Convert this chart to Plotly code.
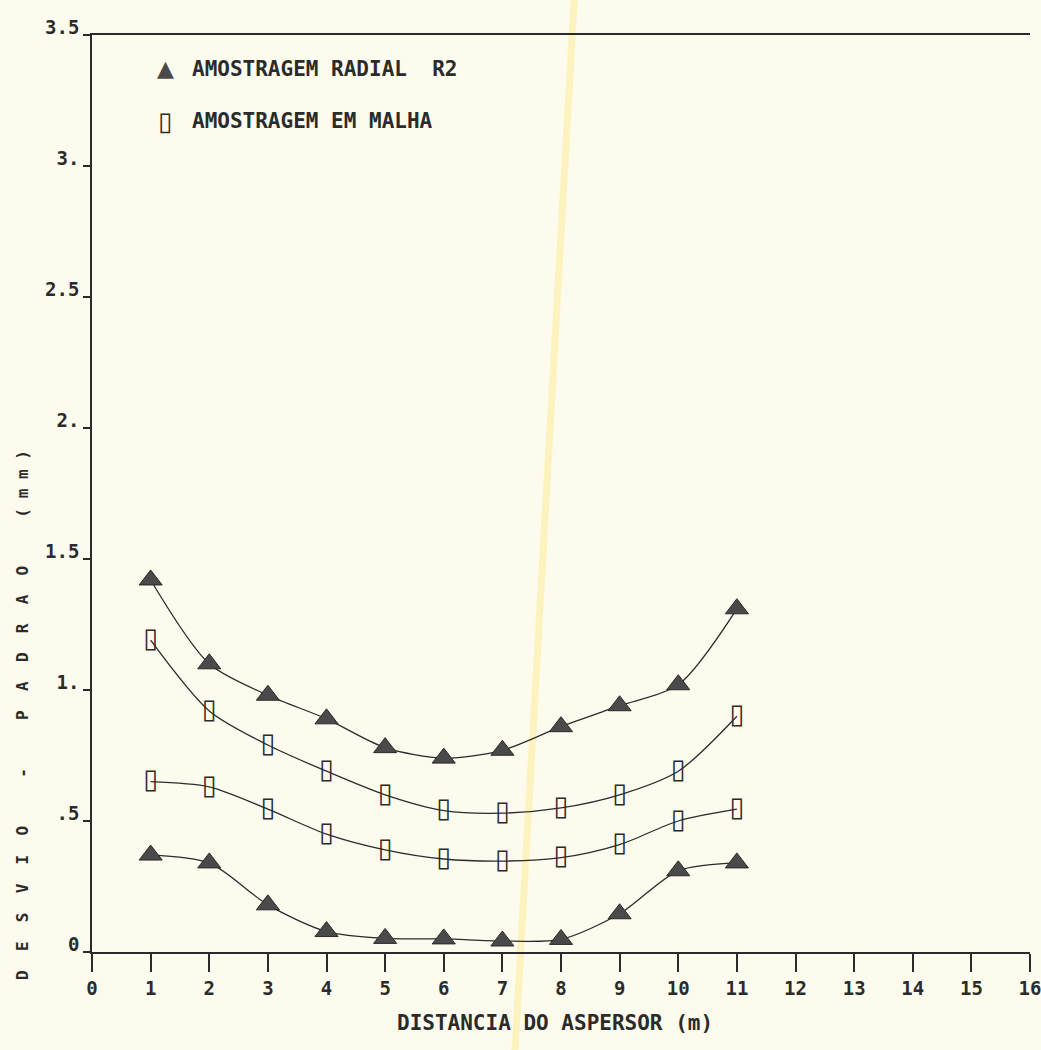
import plotly.graph_objects as go

# ---- data ----
distance = [1, 2, 3, 4, 5, 6, 7, 8, 9, 10, 11]

radial_upper = [1.42, 1.10, 0.98, 0.89, 0.78, 0.74, 0.77, 0.86, 0.94, 1.02, 1.31]
radial_lower = [0.37, 0.34, 0.18, 0.078, 0.052, 0.05, 0.042, 0.048, 0.146, 0.31, 0.34]
malha_upper = [1.19, 0.92, 0.79, 0.69, 0.60, 0.54, 0.53, 0.55, 0.60, 0.69, 0.90]
malha_lower = [0.65, 0.63, 0.545, 0.45, 0.39, 0.355, 0.347, 0.36, 0.41, 0.50, 0.545]

x_ticks = list(range(0, 17))
y_tickvals = [0, 0.5, 1, 1.5, 2, 2.5, 3, 3.5]
y_ticktext = ["0", ".5", "1.", "1.5", "2.", "2.5", "3.", "3.5"]

legend_radial = "AMOSTRAGEM RADIAL  R2"
legend_malha = "AMOSTRAGEM EM MALHA"
x_title = "DISTANCIA DO ASPERSOR (m)"
y_title = "D  E  S  V  I  O     -     P  A  D  R  A  O     ( m m )"

MONO = "DejaVu Sans Mono, Liberation Mono, monospace"
INK = "#2b2b2b"
PAPER = "#fcfbee"

fig = go.Figure()

for ys in (radial_upper, radial_lower):
    fig.add_trace(go.Scatter(
        x=distance, y=ys, mode="lines+markers",
        line=dict(color=INK, width=1.3, shape="spline", smoothing=0.8),
        marker=dict(symbol="triangle-up", size=20, color="#4a4a4a",
                    line=dict(color="#2a2a2a", width=1)),
        showlegend=False, hoverinfo="x+y",
    ))

for ys in (malha_upper, malha_lower):
    fig.add_trace(go.Scatter(
        x=distance, y=ys, mode="lines+text",
        text=["\u25AF"] * len(distance), textposition="middle center",
        textfont=dict(family="DejaVu Sans", size=27, color=INK),
        line=dict(color=INK, width=1.3, shape="spline", smoothing=0.8),
        showlegend=False, hoverinfo="x+y",
    ))

# legend drawn as text, as in the original
fig.add_annotation(xref="paper", yref="paper", x=0.078, y=0.963, text="\u25B2",
                   xanchor="center", yanchor="middle", showarrow=False,
                   font=dict(family="DejaVu Sans", size=22, color="#4a4a4a"))
fig.add_annotation(xref="paper", yref="paper", x=0.104, y=0.963, text=legend_radial,
                   xanchor="left", yanchor="middle", showarrow=False,
                   font=dict(family=MONO, size=21, color=INK, weight="bold"))
fig.add_annotation(xref="paper", yref="paper", x=0.078, y=0.906, text="\u25AF",
                   xanchor="center", yanchor="middle", showarrow=False,
                   font=dict(family="DejaVu Sans", size=26, color=INK))
fig.add_annotation(xref="paper", yref="paper", x=0.104, y=0.906, text=legend_malha,
                   xanchor="left", yanchor="middle", showarrow=False,
                   font=dict(family=MONO, size=21, color=INK, weight="bold"))

# axis titles
fig.add_annotation(xref="paper", yref="paper", x=0.494, y=-0.077, text=x_title,
                   xanchor="center", yanchor="middle", showarrow=False,
                   font=dict(family=MONO, size=21, color=INK, weight="bold"))
fig.add_annotation(xref="paper", yref="paper", x=-0.074, y=0.258, text=y_title,
                   xanchor="center", yanchor="middle",
                   textangle=-90, showarrow=False,
                   font=dict(family=MONO, size=16, color=INK, weight="bold"))

# faint yellow highlighter streak from the scanned page
fig.add_shape(type="line", xref="paper", yref="paper",
              x0=0.514, y0=1.038, x1=0.451, y1=-0.107,
              line=dict(color="rgba(255,232,130,0.45)", width=7), layer="below")

fig.update_xaxes(
    range=[0, 16], tickvals=x_ticks, ticktext=[str(v) for v in x_ticks],
    showline=True, linecolor=INK, linewidth=2, mirror=True,
    ticks="outside", ticklen=18, tickwidth=1.5, tickcolor=INK,
    showgrid=False, zeroline=False, ticklabeloverflow="allow", automargin=False,
    tickfont=dict(family=MONO, size=19, color=INK, weight="bold"),
)
fig.update_yaxes(
    range=[0, 3.5], tickvals=y_tickvals, ticktext=y_ticktext,
    showline=True, linecolor=INK, linewidth=1.5, mirror=False,
    ticks="outside", ticklen=7, tickwidth=1.5, tickcolor=INK,
    showgrid=False, zeroline=False, ticklabelshift=-8, automargin=False,
    tickfont=dict(family=MONO, size=19, color=INK, weight="bold"),
)

fig.update_layout(
    width=1041, height=1050,
    margin=dict(l=92, r=11, t=35, b=98),
    paper_bgcolor=PAPER, plot_bgcolor="rgba(0,0,0,0)",
    showlegend=False,
)

fig.write_html(
    "out.html",
    config={"displayModeBar": False},
    post_script="document.body.style.margin='0';document.body.style.overflow='hidden';",
)
